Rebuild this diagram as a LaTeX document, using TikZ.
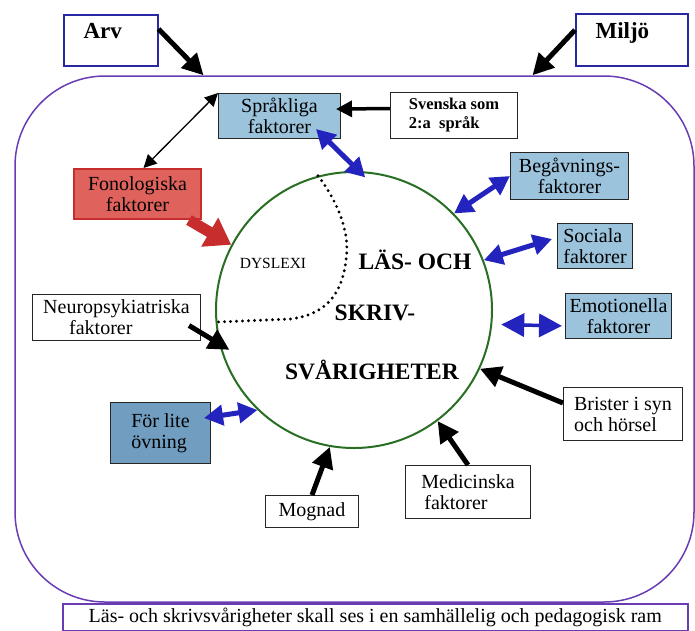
\documentclass[tikz,border=0pt]{standalone}
\usepackage{fontspec}
\setmainfont{Liberation Serif}
\usetikzlibrary{arrows.meta}

\definecolor{bleu}{RGB}{155,195,220}
\definecolor{bleufonce}{RGB}{112,157,192}
\definecolor{rouge}{RGB}{224,98,92}
\definecolor{rougefonce}{RGB}{200,45,45}
\definecolor{lila}{RGB}{105,60,180}
\definecolor{vert}{RGB}{40,110,35}
\definecolor{pilbleu}{RGB}{35,35,190}
\definecolor{kant}{RGB}{40,40,165}

\newcommand{\txt}{\rmfamily\fontsize{20}{21}\selectfont}
\newcommand{\grostxt}{\rmfamily\fontsize{23.5}{24}\selectfont\bfseries}

\begin{document}
\begin{tikzpicture}[x=1pt,y=-1pt,
    boite/.style={draw=black!85, line width=1pt, align=center, inner sep=2pt, font=\txt, anchor=north west},
    bla/.style={boite, fill=bleu},
    pil/.style={-{Triangle[length=21pt,width=21pt]}, line width=5pt},
    dubbel/.style={{Triangle[length=19pt,width=20pt]}-{Triangle[length=19pt,width=20pt]}, line width=5pt, pilbleu},
]
    \useasboundingbox (0,0) rectangle (695,630);

    % ram och cirkel
    \node[draw=lila, line width=1.5pt, rounded corners=90pt, minimum width=679pt, minimum height=526pt] (ram) at (354.5,339) {};
    \node[draw=vert, line width=2pt, circle, minimum size=276pt] (lsv) at (354,310) {};

    % Arv, Miljö
    \node[boite, draw=kant, line width=1.5pt, minimum width=94pt, minimum height=51pt] (arv) at (63,14) {};
    \node[anchor=base west, font=\rmfamily\fontsize{23}{23}\selectfont\bfseries] (arvtxt) at (80,38) {Arv};
    \node[boite, draw=kant, line width=1.5pt, minimum width=112pt, minimum height=52pt] (miljo) at (575,13) {};
    \node[anchor=base west, font=\rmfamily\fontsize{23}{23}\selectfont\bfseries] (miljotxt) at (592,38) {Miljö};
    \draw[pil] ([yshift=-15pt]arv.north east) -- ([xshift=-151pt]ram.north);
    \draw[pil] ([yshift=-17pt]miljo.north west) -- ([xshift=178pt]ram.north);

    % rutor
    \node[bla, minimum width=122pt, minimum height=45pt] (sprak) at (218,93) {Språkliga\\faktorer};
    \node[boite, align=left, minimum width=127pt, minimum height=46pt, font=\rmfamily\fontsize{16.5}{19}\selectfont\bfseries] (svensk) at (390,92) {Svenska som\\2:a\ \ språk};
    \node[boite, fill=rouge, draw=rougefonce, line width=2pt, minimum width=127pt, minimum height=50pt] (fono) at (73,168) {Fonologiska\\faktorer};
    \node[bla, minimum width=118pt, minimum height=47pt] (begav) at (510,152) {Begåvnings-\\faktorer};
    \node[bla, align=left, minimum width=75pt, minimum height=45pt] (soc) at (557,223) {Sociala\\faktorer};
    \node[bla, minimum width=106pt, minimum height=45pt] (emo) at (565,293) {Emotionella\\faktorer};
    \node[boite, align=left, minimum width=168pt, minimum height=46pt] (neuro) at (32,294) {Neuropsykiatriska\\\hspace*{26pt}faktorer};
    \node[boite, align=left, minimum width=119pt, minimum height=53pt] (brist) at (563,387) {Brister i syn\\och hörsel};
    \node[boite, align=left, minimum width=125pt, minimum height=53pt] (medic) at (405,465) {Medicinska\\\hspace*{3pt}faktorer};
    \node[boite, minimum width=93pt, minimum height=32pt] (mogn) at (265,495) {Mognad};
    \node[boite, fill=bleufonce, align=left, minimum width=100pt, minimum height=61pt] (ovn) at (110,402) {För lite\\övning};
    \node[boite, draw=lila, line width=1.5pt, fill=white, minimum width=625pt, minimum height=27pt] (nedre) at (62,603) {Läs- och skrivsvårigheter skall ses i en samhällelig och pedagogisk ram};

    % text i cirkeln
    \node[font=\rmfamily\fontsize{15.5}{16}\selectfont] (dysl) at (273,263) {DYSLEXI};
    \node[font=\grostxt] (las) at (415,260) {LÄS- OCH};
    \node[font=\grostxt] (skriv) at (375,313) {SKRIV-};
    \node[font=\grostxt] (svar) at (372,370) {SVÅRIGHETER};
    \draw[line width=3.2pt, dash pattern=on 0pt off 6pt, line cap=round]
        (lsv.105) .. controls (340,205) and (350,235) .. (346,260)
        .. controls (342,295) and (325,315) .. (290,319) -- (lsv.185);

    % pilar
    \draw[{Triangle[length=13pt,width=13pt]}-{Triangle[length=13pt,width=13pt]}, line width=1.3pt] (sprak.north west) -- ([xshift=6pt]fono.north);
    \draw[pil, line width=3.5pt, -{Triangle[length=16pt,width=16pt]}, shorten >=-5pt] ([yshift=7pt]svensk.west) -- ([yshift=7pt]sprak.east);
    \draw[dubbel, shorten >=-9pt] ([xshift=-25pt,yshift=10pt]sprak.south east) -- (lsv.88);
    \draw[rougefonce, line width=11pt, -{Triangle[length=25pt,width=32pt]}] ([xshift=-13pt]fono.south east) -- (lsv.152);
    \draw[dubbel] (begav.west) -- (lsv.44);
    \draw[dubbel] ([xshift=-5pt,yshift=7pt]soc.west) -- (lsv.21);
    \draw[dubbel, line width=3.5pt, {Triangle[length=23pt,width=23pt]}-{Triangle[length=23pt,width=23pt]}, shorten <=3pt] ([yshift=-10pt]emo.west) -- ([xshift=9pt]lsv.-6);
    \draw[pil, shorten >=-12pt] ([xshift=-12pt,yshift=-8pt]neuro.east) -- (lsv.194);
    \draw[pil] ([yshift=11pt]brist.west) -- (lsv.-25);
    \draw[pil] (medic.north) -- (lsv.-53);
    \draw[pil] (mogn.north) -- (lsv.-100);
    \draw[dubbel] ([xshift=-7pt,yshift=15pt]ovn.east) -- (lsv.-134);

\end{tikzpicture}
\end{document}
